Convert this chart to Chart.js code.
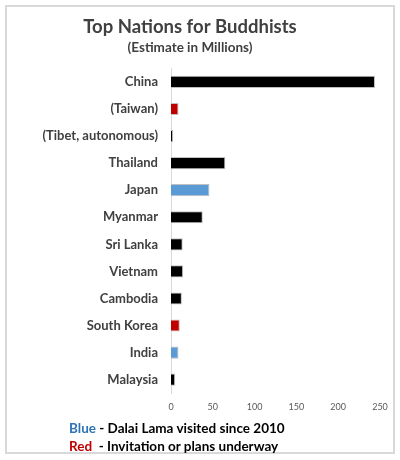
<!DOCTYPE html>
<html>
<head>
<meta charset="utf-8">
<script src="https://cdn.jsdelivr.net/npm/chart.js@4"></script>
<style>
	body { margin: 0; background: #fff; }
	#wrap { position: relative; width: 400px; height: 460px; }
	#frame { position: absolute; left: 5px; top: 5px; width: 386px; height: 445px; border: 2px solid #d9d9d9; }
	#chart { position: absolute; left: 0; top: 0; }
	#key { position: absolute; left: 69px; top: 419px; font: bold 13.5px Lato, sans-serif; color: #000; line-height: 18px; }
	.blue { color: #2e75b6; }
	.red { color: #c00000; }
</style>
</head>
<body>
<div id="wrap">
	<div id="frame"></div>
	<canvas id="chart" width="400" height="460"></canvas>
	<div id="key">
		<div><span class="blue">Blue</span> - Dalai Lama visited since 2010</div>
		<div><span class="red">Red</span>&nbsp; - Invitation or plans underway</div>
	</div>
</div>
<script>
"use strict";

const nations = ['China', '(Taiwan)', '(Tibet, autonomous)', 'Thailand', 'Japan', 'Myanmar',
	'Sri Lanka', 'Vietnam', 'Cambodia', 'South Korea', 'India', 'Malaysia'];
const buddhists = [244, 9, 2.5, 65, 46, 38, 14, 14.5, 13, 10.5, 9, 5];
// k = no visit, b = Dalai Lama visited, r = invitation
const status = ['k', 'r', 'k', 'k', 'b', 'k', 'k', 'k', 'k', 'r', 'b', 'k'];
const xTicks = [0, 50, 100, 150, 200, 250];

const colours = { k: '#000000', b: '#5b9bd5', r: '#c00000' };

new Chart(document.getElementById('chart'), {
	type: 'bar',
	data: {
		labels: nations,
		datasets: [{
			data: buddhists,
			backgroundColor: status.map(s => colours[s]),
			borderColor: '#bfbfbf',
			borderWidth: { top: 1, right: 1, bottom: 1, left: 0 },
			barPercentage: 0.45,
			categoryPercentage: 1.0,
		}]
	},
	options: {
		indexAxis: 'y',
		responsive: false,
		animation: false,
		layout: {
			padding: { left: 0, right: 20, top: 0, bottom: 40 }
		},
		scales: {
			x: {
				min: xTicks[0],
				max: xTicks[xTicks.length - 1],
				afterBuildTicks: function(scale) {
					scale.ticks = xTicks.map(v => ({ value: v }));
				},
				grid: { display: false, drawTicks: false },
				border: { display: false },
				ticks: {
					padding: 8,
					color: '#595959',
					font: { family: 'Lato', size: 9 },
				}
			},
			y: {
				afterFit: function(scale) {
					scale.width = 171;
				},
				grid: { display: false, drawTicks: false },
				border: { display: true, color: '#d9d9d9', width: 1 },
				ticks: {
					padding: 13,
					color: '#404040',
					font: { family: 'Lato', size: 13, weight: 'bold' },
				}
			}
		},
		plugins: {
			legend: { display: false },
			tooltip: { enabled: false },
			title: {
				display: true,
				text: 'Top Nations for Buddhists',
				color: '#404040',
				font: { family: 'Lato', size: 18.5, weight: 'bold' },
				padding: { top: 16, bottom: 1 },
			},
			subtitle: {
				display: true,
				text: '(Estimate in Millions)',
				color: '#404040',
				font: { family: 'Lato', size: 13.5, weight: 'bold' },
				padding: { top: 0, bottom: 13 },
			}
		}
	}
});
</script>
</body>
</html>
